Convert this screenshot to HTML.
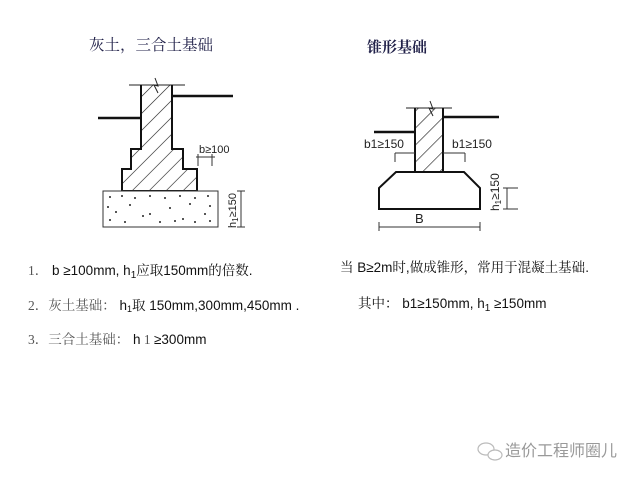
<!DOCTYPE html>
<html><head><meta charset="utf-8"><style>
html,body{margin:0;padding:0;background:#fff;}
svg{display:block;}
.s{font-family:"Liberation Serif","Noto Serif CJK SC",serif;}
.a{font-family:"Liberation Sans","Noto Sans CJK SC",sans-serif;}
</style></head><body>
<svg width="640" height="480" viewBox="0 0 640 480" xmlns="http://www.w3.org/2000/svg">
<defs>
<pattern id="h" patternUnits="userSpaceOnUse" width="12" height="12" patternTransform="rotate(45)">
<line x1="0" y1="0" x2="0" y2="12" stroke="#111" stroke-width="1.2"/>
</pattern>
</defs>
<text x="89" y="50" class="s" font-size="15.5" fill="#22224a">灰土，三合土基础</text>
<text x="367" y="52" class="s" font-size="15" font-weight="bold" fill="#22224a">锥形基础</text>

<!-- Left diagram -->
<line x1="129" y1="85" x2="185" y2="85" stroke="#222" stroke-width="1"/>
<path d="M155 78 L158 86 L154 85 L158 93" fill="none" stroke="#222" stroke-width="1"/>
<path d="M141 85 L141 149 L131 149 L131 169 L122 169 L122 191 L197 191 L197 169 L183 169 L183 149 L172 149 L172 85 Z" fill="url(#h)"/>
<path d="M141 85 L141 149 L131 149 L131 169 L122 169 L122 191 L197 191 L197 169 L183 169 L183 149 L172 149 L172 85" fill="none" stroke="#111" stroke-width="2"/>
<line x1="172" y1="96" x2="233" y2="96" stroke="#111" stroke-width="2.5"/>
<line x1="98" y1="118" x2="141" y2="118" stroke="#111" stroke-width="2.5"/>
<rect x="103" y="191" width="115" height="36" fill="#fff" stroke="#333" stroke-width="1"/>
<g fill="#222">
<circle cx="110" cy="197" r="1"/><circle cx="122" cy="196" r="1"/><circle cx="135" cy="198" r="1"/><circle cx="150" cy="196" r="1"/><circle cx="165" cy="198" r="1"/><circle cx="180" cy="196" r="1"/><circle cx="195" cy="198" r="1"/><circle cx="208" cy="196" r="1"/>
<circle cx="108" cy="207" r="1"/><circle cx="116" cy="212" r="1"/><circle cx="210" cy="206" r="1"/><circle cx="205" cy="214" r="1"/><circle cx="143" cy="216" r="1"/><circle cx="150" cy="214" r="1"/>
<circle cx="110" cy="220" r="1"/><circle cx="125" cy="222" r="1"/><circle cx="160" cy="222" r="1"/><circle cx="175" cy="221" r="1"/><circle cx="183" cy="219" r="1"/><circle cx="195" cy="222" r="1"/><circle cx="210" cy="221" r="1"/>
<circle cx="130" cy="205" r="1"/><circle cx="170" cy="208" r="1"/><circle cx="190" cy="204" r="1"/>
</g>
<line x1="241" y1="191" x2="241" y2="227" stroke="#333"/>
<line x1="237" y1="191" x2="245" y2="191" stroke="#333"/>
<line x1="237" y1="227" x2="245" y2="227" stroke="#333"/>
<text transform="translate(236,228) rotate(-90)" class="a" font-size="11" fill="#222">h<tspan font-size="8" dy="2">1</tspan><tspan dy="-2">≥150</tspan></text>
<text x="199" y="153" class="a" font-size="11" fill="#222">b≥100</text>
<line x1="196" y1="157" x2="215" y2="157" stroke="#333"/>
<line x1="198" y1="154" x2="198" y2="166" stroke="#333"/>
<line x1="212" y1="154" x2="212" y2="166" stroke="#333"/>

<!-- Right diagram -->
<line x1="406" y1="108" x2="452" y2="108" stroke="#222"/>
<path d="M430 101 L433 109 L429 108 L433 116" fill="none" stroke="#222"/>
<rect x="415" y="108" width="28" height="64" fill="url(#h)"/>
<path d="M415 108 L415 172 M443 108 L443 172" stroke="#111" stroke-width="2"/>
<line x1="443" y1="117" x2="499" y2="117" stroke="#111" stroke-width="2.5"/>
<line x1="374" y1="132" x2="415" y2="132" stroke="#111" stroke-width="2.5"/>
<path d="M396 172 L464 172 L480 188 L480 209 L379 209 L379 188 Z" fill="none" stroke="#111" stroke-width="2"/>
<line x1="379" y1="227" x2="480" y2="227" stroke="#333"/>
<line x1="379" y1="222" x2="379" y2="231" stroke="#333"/>
<line x1="480" y1="222" x2="480" y2="231" stroke="#333"/>
<text x="415" y="223" class="a" font-size="13" fill="#222">B</text>
<text x="364" y="148" class="a" font-size="12" fill="#222">b1≥150</text>
<line x1="395" y1="153" x2="415" y2="153" stroke="#333"/>
<line x1="395" y1="153" x2="395" y2="162" stroke="#333"/>
<text x="452" y="148" class="a" font-size="12" fill="#222">b1≥150</text>
<line x1="443" y1="153" x2="465" y2="153" stroke="#333"/>
<line x1="465" y1="153" x2="465" y2="162" stroke="#333"/>
<line x1="507" y1="188" x2="507" y2="209" stroke="#333"/>
<line x1="503" y1="188" x2="518" y2="188" stroke="#333"/>
<line x1="503" y1="209" x2="518" y2="209" stroke="#333"/>
<text transform="translate(499,211) rotate(-90)" class="a" font-size="12" fill="#222">h<tspan font-size="8" dy="2">1</tspan><tspan dy="-2">≥150</tspan></text>

<!-- Notes -->
<g font-size="13.5" fill="#111">
<text x="28" y="275" class="a"><tspan class="s" fill="#555">1．</tspan> b ≥100mm, h<tspan font-size="10" dy="3">1</tspan><tspan dy="-3" class="s">应取</tspan>150mm<tspan class="s">的倍数</tspan>.</text>
<text x="28" y="310" class="a"><tspan class="s" fill="#555">2．灰土基础：</tspan> h<tspan font-size="9" dy="2">1</tspan><tspan dy="-2" class="s">取</tspan> 150mm,300mm,450mm .</text>
<text x="28" y="344" class="a"><tspan class="s" fill="#555">3．三合土基础：</tspan> h<tspan class="s" fill="#555"> 1 </tspan> ≥300mm</text>
<text x="340" y="272" class="a"><tspan class="s">当</tspan>  B≥2m<tspan class="s">时</tspan>,<tspan class="s">做成锥形，常用于混凝土基础</tspan>.</text>
<text x="358" y="308" class="a"><tspan class="s">其中：</tspan> b1≥150mm, h<tspan font-size="10" dy="3">1</tspan><tspan dy="-3"> ≥150mm</tspan></text>
</g>

<!-- Watermark -->
<g stroke="#bbb" fill="none" stroke-width="1.2">
<ellipse cx="486" cy="449" rx="8" ry="6"/>
<ellipse cx="495" cy="455" rx="7" ry="5" fill="#fff"/>
</g>
<text x="505" y="456" class="a" font-size="16" fill="#999">造价工程师圈儿</text>
</svg>
</body></html>
